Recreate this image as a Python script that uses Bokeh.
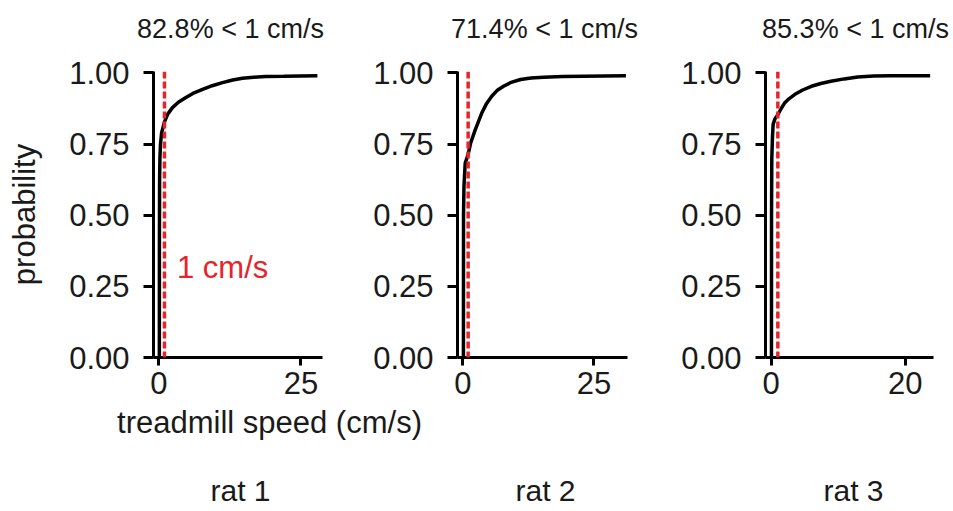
from bokeh.plotting import figure
from bokeh.layouts import row, column
from bokeh.models import Range1d, FixedTicker, NumeralTickFormatter, Span, Label
from bokeh.embed import file_html
from bokeh.resources import INLINE

# ---------------- data ----------------
rats = ["rat 1", "rat 2", "rat 3"]
pct_below = [82.8, 71.4, 85.3]          # % of samples below threshold
threshold = 1.0                          # cm/s

rat1_speed = [0.1, 0.11, 0.14, 0.2, 0.3, 0.5, 1.0, 1.6, 2.4, 3.5, 4.7, 6.0, 7.7,
              9.4, 11.2, 13.0, 14.7, 16.7, 18.8, 22.0, 25.0, 27.9]
rat1_prob = [0.0, 0.40, 0.62, 0.70, 0.75, 0.79, 0.828, 0.856, 0.878, 0.898, 0.913,
             0.928, 0.942, 0.955, 0.966, 0.975, 0.981, 0.985, 0.987, 0.988, 0.989, 0.990]

rat2_speed = [0.1, 0.12, 0.2, 0.44, 1.0, 1.5, 2.35, 3.6, 4.5, 5.5, 6.5, 7.75,
              9.2, 11.0, 13.0, 15.4, 19.0, 23.0, 27.0, 31.1]
rat2_prob = [0.0, 0.50, 0.60, 0.683, 0.714, 0.755, 0.80, 0.859, 0.892, 0.918, 0.938,
             0.953, 0.967, 0.977, 0.982, 0.985, 0.987, 0.988, 0.989, 0.990]

rat3_speed = [0.05, 0.06, 0.1, 0.2, 0.3, 0.6, 1.0, 1.5, 2.0, 2.7, 3.5, 4.7, 6.0,
              7.4, 8.9, 10.9, 12.9, 15.3, 17.8, 20.5, 23.7]
rat3_prob = [0.0, 0.50, 0.70, 0.776, 0.82, 0.84, 0.853, 0.875, 0.894, 0.91, 0.924,
             0.94, 0.953, 0.963, 0.971, 0.979, 0.986, 0.989, 0.990, 0.990, 0.990]

speeds = [rat1_speed, rat2_speed, rat3_speed]
probs = [rat1_prob, rat2_prob, rat3_prob]

x_ticks = [[0, 25], [0, 25], [0, 20]]
y_ticks = [0, 0.25, 0.5, 0.75, 1.0]

x_label = "treadmill speed (cm/s)"
y_label = "probability"
threshold_label = "1 cm/s"

# ---------------- style / layout ----------------
FONT = "Liberation Sans"
INK = "#1a1a1a"
RED = "#e8232a"
W = 953

x_ranges = [(-0.93, 28.8), (-1.03, 31.4), (-0.84, 24.2)]
frame_w = [169, 170, 168]
border_l = [153, 117, 115]
border_r = [18, 23, 20]
FRAME_H = 286
TOP_STRIP_H = 50
TOP = 71 - TOP_STRIP_H
BOTTOM = 46


def text_strip(height):
    s = figure(width=W, height=height, x_range=Range1d(0, W),
               y_range=Range1d(0, height), min_border=0,
               x_axis_type=None, y_axis_type=None,
               toolbar_location=None, output_backend="svg")
    s.grid.visible = False
    s.outline_line_color = None
    return s


def make_panel(i):
    p = figure(
        frame_width=frame_w[i], frame_height=FRAME_H,
        min_border=0,
        min_border_left=border_l[i], min_border_right=border_r[i],
        min_border_top=TOP, min_border_bottom=BOTTOM,
        x_range=Range1d(*x_ranges[i]), y_range=Range1d(0, 1.005),
        toolbar_location=None, output_backend="svg",
    )
    p.line(speeds[i], probs[i], line_width=3.5, color="black")
    p.add_layout(Span(location=threshold, dimension="height", line_color=RED,
                      line_dash="7 3", line_width=3.5))

    p.grid.visible = False
    p.outline_line_color = None
    p.background_fill_color = "white"
    p.border_fill_color = "white"

    p.xaxis.ticker = FixedTicker(ticks=x_ticks[i])
    p.yaxis.ticker = FixedTicker(ticks=y_ticks)
    p.yaxis.formatter = NumeralTickFormatter(format="0.00")
    for ax in p.axis:
        ax.axis_line_width = 3
        ax.axis_line_color = "black"
        ax.major_tick_line_width = 3
        ax.major_tick_line_color = "black"
        ax.minor_tick_line_color = None
        ax.major_tick_in = 0
        ax.major_label_text_font = FONT
        ax.major_label_text_font_size = "31px"
        ax.major_label_text_color = INK
    p.xaxis.major_tick_out = 8
    p.xaxis.major_label_standoff = 6
    p.yaxis.major_tick_out = 10
    p.yaxis.major_label_standoff = 14

    if i == 0:
        p.yaxis.axis_label = y_label
        p.yaxis.axis_label_text_font = FONT
        p.yaxis.axis_label_text_font_size = "31px"
        p.yaxis.axis_label_text_font_style = "normal"
        p.yaxis.axis_label_text_color = INK
        p.yaxis.axis_label_standoff = 24
        p.add_layout(Label(x=3.2, y=0.315, text=threshold_label, text_color=RED,
                           text_font=FONT, text_font_size="31px",
                           text_baseline="middle", text_align="left"))
    return p


panels = [make_panel(i) for i in range(3)]

# top strip: one title per panel
top = text_strip(TOP_STRIP_H)
title_x = [230, 544, 855]
for pct, cx in zip(pct_below, title_x):
    top.add_layout(Label(x=cx, y=TOP_STRIP_H - 28, x_units="screen", y_units="screen",
                         text=f"{pct}% < {threshold:g} cm/s", text_font=FONT,
                         text_font_size="27px", text_color=INK,
                         text_align="center", text_baseline="middle"))

# bottom strip: shared x label and rat names
STRIP_H = 108
bottom = text_strip(STRIP_H)
bottom.add_layout(Label(x=269, y=STRIP_H - 19, x_units="screen", y_units="screen",
                        text=x_label, text_font=FONT, text_font_size="31px",
                        text_color=INK, text_align="center", text_baseline="middle"))
rat_x = [240, 545, 853]
for name, cx in zip(rats, rat_x):
    bottom.add_layout(Label(x=cx, y=21, x_units="screen", y_units="screen",
                            text=name, text_font=FONT, text_font_size="30px",
                            text_color=INK, text_align="center", text_baseline="middle"))

layout = column(top, row(*panels), bottom)

with open("out.html", "w") as f:
    f.write(file_html(layout, INLINE))
